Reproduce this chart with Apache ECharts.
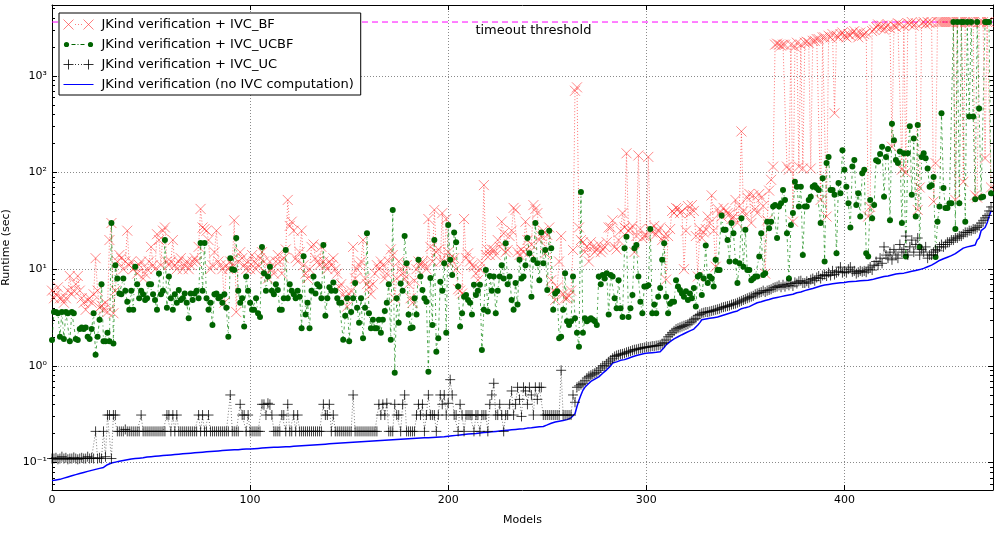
<!DOCTYPE html>
<html><head><meta charset="utf-8">
<script src="https://cdn.jsdelivr.net/npm/echarts@6/dist/echarts.min.js"></script>
<style>html,body{margin:0;padding:0;background:#fff}#c{width:994px;height:533px}</style>
</head><body><div id="c"></div>
<script>
// Runtime (sec) per model, models sorted by plain JKind verification time
const bfTimes = [
6,5,5.5,6.5,5,5,4.5,5,6,8.5,
5.5,6,7,8.5,6,5,4.5,3.8,4.8,5,
4.5,5.5,13,6,4,4.2,3.8,4.5,3.6,20,
30,3.5,6,12,14,13,10,12,25,11,
12,10,10.5,9,11,12,8,9,10,12,
17,11,10,23,20,11,25,27,12,11,
12,20,11,10,12,13,10,11,12,10,
11,12,13,12,17,42,27,26,25,20,
10,11,15,25,12,11,10,4.5,11,10,
12,11,32,3.6,12,15,13,11,10,12,
10,14,12,10,11,13,15,12,9,8,
12,10,9,12,14,12,9,13,16,52,
28,31,25,13,12,15,25,11,9,8,
10,17,18,13,12,11,17,12,11,10,
12,11,13,10,9,6.5,7,5.5,5,4.1,
5.5,6,17,8,10,11,12,20,8,7,
6.5,5.5,7,9,11,10,12,11,8,9,
12,16,14,5,8,12,10,9,8,11,
7,5,4.5,7.6,10,12,11,12,11,10,
33,17,12,41,15,16,12,38,12,33,
15,13,12,13,10,6.2,6,5.6,33,13,
14.6,12,11,10.6,9,7.7,10,11.5,74,14,
15.8,14,16,15.8,14,20,17,31,23.5,15,
15.8,22,25,43,41,15,14,16,15,31,
20,15,18,46,42,38,20,22,25,14.6,
22.6,27,7.7,6,4.8,6.5,12,22,5.5,5,
5,5.3,6,15.8,700,760,27,20,19,15,
17,12,19,17,15,16,18,15,16,17,
19,27,27,32,17,16,20,25,38,27,
158,25,26,28,15,22,150,26,21,22,
22,145,26,24,28,23,25,27,20,22,
7.8,22,26,40,38,43,42,38,40,10,
25,45,38,46,40,22,8.4,26,21,24,
26,35,30,58,25,10.6,42,38,35,43,
40,38,37,33,35,52,30,45,266,40,
36,55,60,30,58,42,38,60,55,45,
9,32,65,84,115,2100,2150,2100,2050,2100,
2100,115,107,2100,31,2000,2200,115,2100,110,
2200,2250,2200,110,2300,2300,2400,2400,52,2500,
2500,35,2600,2500,2700,410,2600,2500,2700,2800,
2600,2500,2700,2600,2800,2900,2700,2500,2800,2600,
2700,2800,35,44,2900,3000,3200,3400,3100,3300,
3000,3200,3400,3100,185,3300,3200,3500,3400,107,
3300,100,3500,3400,3600,3300,3500,41,70,3500,
3600,3400,3600,3500,3600,50,125,3600,3600,3600,
3600,3600,3600,3600,3600,3600,52,3600,3600,3600,
80,3600,3600,3600,3600,3600,58,55,3600,3600,
3600,140,3600,3600,70
];
const ucbfTimes = [
1.85,3.6,3.6,3.5,2,3.6,1.9,3.6,3.5,1.8,
3.6,3.5,1.9,1.85,2.4,2.5,2.4,2.5,2,1.9,
2.4,3.5,1.3,2,3,7,1.8,1.8,2.2,1.8,
30,1.7,11,8,5.6,5.5,8,6,4.6,3.8,
6,3.8,10.6,7,5,6,5.5,4.8,5,7,
7,5.5,4.8,3.8,9,5.5,6,20,4,8.4,
5,3.8,5.5,4.5,6.1,4.8,5,5.6,4.5,3.1,
5.6,4.8,5.6,6,5,18.6,6,18.6,5,3.8,
4.5,2.65,5.5,5.6,5,5.2,4.5,5.5,4,2.0,
13,10,9.8,21,6,4.5,5,2.55,8.4,6,
4.5,3.8,3.8,5,3.5,3.2,17,9.1,6,8.4,
10.6,6,5.5,7,6.1,3.8,3.8,5,15.8,5,
7,6,5.5,5,6,5.2,2.45,13.6,3.4,4.5,
2.45,6,8.4,5.6,7,6.6,5,17.8,3.3,5,
6.5,6,7.3,6,5,4.5,4.5,1.86,3.3,5,
1.8,3.6,5,7.2,4,2.8,5,1.93,4,23.5,
3.5,2.45,3,2.45,2.45,3,2.2,3,3.7,4.5,
7,1.86,41,0.85,5,2.8,7.1,6,22,11.5,
3.4,2.45,2.5,5,3.4,12.5,8.4,6.1,5,4.6,
0.87,8.1,2.65,20,1.4,1.93,7.4,6,11.5,2.2,
28.6,12.5,8.7,24,19,6.6,2.55,3.5,5.2,5.4,
4.8,4.5,3.4,6.9,5.4,6,6.9,1.46,3.8,9.8,
3.65,8.5,6,8.4,3.5,6,8.4,11,8,18.5,
7,8.4,4.8,3.8,7.2,4.3,12.5,8,8.4,11,
21,14.6,5.2,12.5,30,11.5,7.7,24,11.5,15.8,
6.1,25,16.5,3.8,5.6,5.9,1.93,2.0,3.8,9.1,
2.9,2.65,2.9,8.4,3.1,2.2,1.58,63,2.2,3.1,
2.9,3,3.1,3,2.9,2.65,8.4,7,8.7,8,
9.1,3.4,8.7,8.4,5,3.95,7.7,3.95,3.2,16.5,
21.7,3.2,3.95,5.4,16.5,17.8,8.4,4.6,3.5,6.6,
6.6,6.8,26,3.5,4.3,3.5,5.2,6.4,12.5,18.5,
5.2,3.5,4.4,4.6,4.6,7.7,6.6,6.1,5.6,5.2,
5.9,4.8,5.6,5,6.4,4.1,8.4,8.7,5.4,8,
17.6,7.2,8.4,8,6.6,12.5,9.8,9.8,36,25.5,
25.5,20,12,30,23.5,12,7.2,11.5,33.6,10.6,
25.5,9.8,9.8,7.7,8,8.4,8.4,13.5,23.5,8.7,
9.1,31,26.5,31,44.5,46,21,44.5,48,66,
52,23.5,8,28.6,38,80,71,44.5,71,14,
44.5,44.5,52,56,71,74,69,66,30,87,
12,125,145,66,66,59,14.6,78,61,170,
107,71,48,27,115,135,46,61,35,98,
107,14.6,13.5,52,33.6,46,134,130,155,185,
56,145,175,32,320,215,135,125,165,30,
158,13.5,158,300,59,225,35,310,17,145,
158,140,110,71,74,90,13.4,31,44.5,410,
69,43,43,48,48,3600,26,3600,48,3600,
3600,31,3600,380,3600,380,53,3600,460,55,
56,3600,3600,3600,61
];
const ucTimes = [
.11,.11,.112,.108,.11,.115,.11,.112,.108,.11,
.11,.113,.11,.108,.11,.112,.11,.11,.115,.11,
.112,.11,.21,.11,.112,.11,.21,.115,.31,.31,
.11,.31,.31,.21,.21,.21,.21,.22,.21,.21,
.21,.21,.21,.21,.21,.31,.21,.21,.21,.21,
.21,.21,.21,.21,.21,.21,.21,.21,.31,.31,
.21,.31,.21,.31,.21,.21,.21,.21,.21,.21,
.21,.21,.21,.21,.31,.21,.31,.21,.21,.31,
.21,.21,.21,.21,.21,.21,.21,.21,.21,.21,
.5,.21,.21,.21,.21,.4,.31,.31,.21,.31,
.21,.21,.21,.21,.21,.21,.4,.4,.31,.41,
.4,.31,.21,.21,.21,.21,.31,.31,.21,.4,
.21,.21,.31,.21,.31,.21,.21,.21,.21,.21,
.21,.21,.21,.21,.21,.21,.21,.4,.31,.31,
.4,.21,.31,.21,.21,.21,.21,.21,.21,.21,
.21,.21,.5,.21,.21,.21,.21,.21,.21,.21,
.21,.21,.21,.21,.21,.4,.31,.4,.31,.41,
.21,.21,.21,.4,.31,.31,.21,.4,.5,.21,
.21,.21,.21,.21,.31,.4,.31,.4,.21,.31,
.5,.31,.31,.31,.21,.31,.5,.4,.5,.31,
.41,.72,.5,.31,.31,.21,.4,.31,.21,.31,
.31,.31,.31,.21,.31,.31,.21,.31,.31,.31,
.21,.4,.5,.66,.31,.31,.4,.31,.21,.31,
.31,.4,.55,.31,.4,.6,.45,.3,.6,.55,
.4,.6,.5,.31,.6,.45,.6,.6,.31,.31,
.31,.31,.31,.31,.31,.31,.31,.9,.31,.31,
.31,.31,.31,.5,.42,.6,.62,.64,.66,.7,
.75,.78,.8,.82,.84,.86,.9,.95,1,1,
1.05,1.1,1.15,1.2,1.25,1.28,1.3,1.32,1.33,1.35,
1.38,1.4,1.42,1.45,1.47,1.48,1.5,1.52,1.53,1.55,
1.56,1.57,1.58,1.6,1.6,1.62,1.63,1.65,1.7,1.75,
1.85,2,2.1,2.2,2.3,2.4,2.45,2.5,2.55,2.6,
2.65,2.7,2.8,2.9,3,3.1,3.3,3.4,3.5,3.55,
3.6,3.6,3.65,3.7,3.75,3.8,3.85,3.9,4,4.05,
4.1,4.15,4.2,4.3,4.35,4.4,4.5,4.6,4.7,4.8,
4.9,5,5.1,5.2,5.3,5.5,5.6,5.7,5.8,6,
5.8,6,6.1,6.2,6.4,6.5,6.6,6.8,6.5,6.9,
6.6,7,6.8,7.1,6.7,7.3,7.1,7.5,7.6,7.2,
7.2,7.5,7.2,7.8,8,7.6,8.2,8.5,8,8.6,
8.8,8.5,9.2,8.6,9.6,8.8,9.2,9.5,10.5,9.2,
9.5,9.2,10,10.5,9.4,9.6,9,9.3,9.6,9.4,
9.6,9.3,10,10.5,9.8,11,12,11,13,11.5,
17,14,13,15,12.5,16,14,13,18,15,
16,22,14,17,20,15,18,21,14,16,
15,17,13,14,14,15,16,15.5,17,18,
17,18,19,19,20,20,21,21,22,22,
23,24,24,25,25,26,26,27,28,30,
32,34,36,40,44
];
const noIvcTimes = [
.065,.065,.066,.066,.067,.068,.069,.07,.071,.072,
.073,.074,.075,.076,.077,.078,.079,.08,.081,.082,
.083,.084,.085,.086,.087,.088,.089,.092,.095,.097,
.099,.1,.101,.102,.103,.104,.105,.106,.107,.108,
.109,.11,.11,.111,.111,.112,.112,.113,.114,.115,
.115,.116,.116,.117,.117,.118,.118,.119,.119,.12,
.12,.121,.121,.122,.122,.123,.123,.124,.124,.125,
.125,.126,.126,.127,.127,.128,.128,.129,.129,.13,
.13,.131,.131,.132,.132,.133,.133,.134,.134,.135,
.135,.135,.136,.136,.136,.137,.137,.137,.138,.138,
.138,.139,.139,.14,.14,.141,.141,.142,.142,.143,
.143,.143,.144,.144,.144,.145,.145,.145,.146,.146,
.146,.147,.147,.148,.148,.149,.149,.15,.15,.151,
.151,.152,.152,.153,.153,.154,.154,.155,.155,.156,
.156,.157,.157,.158,.158,.159,.159,.16,.16,.161,
.161,.162,.162,.163,.163,.164,.164,.165,.165,.166,
.166,.167,.167,.168,.168,.169,.169,.17,.17,.171,
.171,.172,.172,.173,.173,.174,.174,.175,.175,.176,
.176,.177,.177,.178,.178,.179,.179,.18,.18,.181,
.181,.182,.182,.183,.183,.184,.184,.185,.185,.186,
.187,.188,.189,.19,.191,.192,.193,.194,.195,.196,
.197,.198,.199,.2,.2,.201,.202,.203,.204,.205,
.206,.207,.208,.209,.21,.211,.212,.213,.214,.215,
.216,.217,.218,.219,.22,.221,.222,.223,.224,.226,
.227,.228,.229,.23,.232,.233,.234,.235,.236,.24,
.245,.25,.255,.26,.263,.266,.268,.27,.272,.275,
.278,.28,.29,.3,.32,.38,.44,.5,.56,.6,
.63,.66,.69,.71,.73,.75,.77,.8,.84,.88,
.91,.95,1,1.07,1.09,1.1,1.12,1.14,1.15,1.16,
1.18,1.2,1.22,1.24,1.26,1.28,1.3,1.31,1.33,1.34,
1.35,1.36,1.36,1.37,1.37,1.38,1.39,1.4,1.45,1.55,
1.65,1.7,1.78,1.85,1.9,1.95,2,2.05,2.1,2.15,
2.2,2.25,2.3,2.35,2.4,2.5,2.65,2.8,3,3.02,
3.05,3.08,3.1,3.12,3.15,3.18,3.2,3.25,3.3,3.35,
3.4,3.45,3.5,3.55,3.6,3.65,3.7,3.8,3.9,3.95,
4,4.05,4.1,4.2,4.3,4.4,4.5,4.55,4.6,4.7,
4.75,4.8,4.85,4.9,5,5.05,5.1,5.15,5.2,5.25,
5.3,5.35,5.4,5.45,5.5,5.6,5.7,5.75,5.8,5.9,
6,6.1,6.15,6.2,6.3,6.4,6.5,6.6,6.7,6.8,
6.85,6.9,6.95,7,7.05,7.1,7.15,7.2,7.25,7.3,
7.3,7.35,7.4,7.4,7.45,7.5,7.5,7.55,7.6,7.6,
7.65,7.7,7.7,7.75,7.8,7.9,8,8.1,8.2,8.3,
8.4,8.5,8.5,8.6,8.7,8.8,8.9,9,9,9.1,
9.1,9.2,9.3,9.4,9.5,9.6,9.7,9.8,9.9,10,
10.2,10.4,10.6,10.8,11,11.3,11.6,12,12.3,12.5,
12.8,13,13.3,13.6,13.8,14,14.5,15,15.5,16,
16.5,17,17,17.2,17.4,17.6,17.8,20,21,25,
26,27,30,35,40
];
const timeoutSec = 3600;
const timeoutLabel = 'timeout threshold';
const timeoutLabelAt = [243, 2900];
const seriesNames = [
  'JKind verification + IVC_BF',
  'JKind verification + IVC_UCBF',
  'JKind verification + IVC_UC',
  'JKind verification (no IVC computation)'
];
const xTicks = [0, 100, 200, 300, 400];
const yTickText = {'-1': '10⁻¹', '0': '10⁰', '1': '10¹', '2': '10²', '3': '10³'};
const yMinorTicks = [
  0.06, 0.07, 0.08, 0.09,
  0.2, 0.3, 0.4, 0.5, 0.6, 0.7, 0.8, 0.9,
  2, 3, 4, 5, 6, 7, 8, 9,
  20, 30, 40, 50, 60, 70, 80, 90,
  200, 300, 400, 500, 600, 700, 800, 900,
  2000, 3000, 4000, 5000
];

const FONT = 'DejaVu Sans';
const toPairs = arr => arr.map((v, i) => [i, v]);
const X_PATH = 'path://M0,0L10,10M10,0L0,10';
const PLUS_PATH = 'path://M5,0L5,10M0,5L10,5';
// legend icons drawn in a 30x10 box: marker, line sample, marker
const ICON_BF = 'path://M0,0L10,10M10,0L0,10M20,0L30,10M30,0L20,10M11.5,5L12.5,5M14.5,5L15.5,5M17.5,5L18.5,5';
const ICON_UCBF = 'path://M0,0L0.01,0M30,10L29.99,10M5.6,5A2.6,2.6,0,1,1,0.4,5A2.6,2.6,0,1,1,5.6,5ZM29.6,5A2.6,2.6,0,1,1,24.4,5A2.6,2.6,0,1,1,29.6,5ZM8,4.5L12,4.5L12,5.5L8,5.5ZM14,4.5L15,4.5L15,5.5L14,5.5ZM17,4.5L21,4.5L21,5.5L17,5.5Z';
const ICON_UC = 'path://M5,0L5,10M0,5L10,5M25,0L25,10M20,5L30,5M11.5,5L12.5,5M14.5,5L15.5,5M17.5,5L18.5,5';
const ICON_LINE = 'path://M0,0L0.01,0M30,10L29.99,10M0,4.4L30,4.4L30,5.6L0,5.6Z';
const gridLine = {show: true, lineStyle: {color: '#8a8a8a', width: 1, type: [1, 2]}};

const chart = echarts.init(document.getElementById('c'), null, {renderer: 'canvas'});
chart.setOption({
  animation: false,
  backgroundColor: '#fff',
  grid: {left: 52, right: 1, top: 5, bottom: 43, containLabel: false, outerBoundsMode: 'none'},
  legend: {
    data: [
      {name: seriesNames[0], icon: ICON_BF,
        itemStyle: {color: 'rgba(0,0,0,0)', borderColor: 'rgba(255,40,40,0.6)', borderWidth: 1}},
      {name: seriesNames[1], icon: ICON_UCBF,
        itemStyle: {color: '#006400', borderWidth: 0}},
      {name: seriesNames[2], icon: ICON_UC,
        itemStyle: {color: 'rgba(0,0,0,0)', borderColor: 'rgba(0,0,0,0.8)', borderWidth: 1}},
      {name: seriesNames[3], icon: ICON_LINE,
        itemStyle: {color: '#0000ff', borderWidth: 0}}
    ],
    symbolKeepAspect: false,
    orient: 'vertical', left: 59, top: 13,
    itemWidth: 30, itemHeight: 10, itemGap: 7,
    backgroundColor: '#fff', borderColor: '#000', borderWidth: 1, borderRadius: 0,
    padding: [5, 7, 4, 4],
    textStyle: {fontFamily: FONT, fontSize: 13, color: '#000', padding: [0, 0, 0, 3]},
    selectedMode: false
  },
  xAxis: [{
    type: 'value', min: 0, max: 475, interval: 100, position: 'bottom',
    name: 'Models', nameLocation: 'middle', nameGap: 25,
    nameTextStyle: {fontFamily: FONT, fontSize: 11, color: '#000'},
    axisLine: {show: true, onZero: false, lineStyle: {color: '#000', width: 1}},
    axisTick: {show: true, inside: true, length: 5, lineStyle: {color: '#000'}},
    axisLabel: {fontFamily: FONT, fontSize: 11, color: '#000', margin: 5, showMaxLabel: false,
      formatter: v => xTicks.includes(v) ? String(v) : ''},
    splitLine: gridLine
  }, {
    type: 'value', min: 0, max: 475, interval: 100, position: 'top',
    axisLine: {show: true, onZero: false, lineStyle: {color: '#000', width: 1}},
    axisTick: {show: true, inside: true, length: 5, lineStyle: {color: '#000'}},
    axisLabel: {show: false}, splitLine: {show: false}
  }],
  yAxis: [{
    type: 'log', logBase: 10, min: 0.052, max: 5400, position: 'left',
    name: 'Runtime (sec)', nameLocation: 'middle', nameGap: 36, nameRotate: 90,
    nameTextStyle: {fontFamily: FONT, fontSize: 11, color: '#000'},
    axisLine: {show: true, onZero: false, lineStyle: {color: '#000', width: 1}},
    axisTick: {show: true, inside: true, length: 5, lineStyle: {color: '#000'}},
    axisLabel: {fontFamily: FONT, fontSize: 11, color: '#000', margin: 5,
      showMinLabel: false, showMaxLabel: false,
      formatter: v => { const e = Math.log10(v); const r = Math.round(e);
        return Math.abs(e - r) < 1e-6 && yTickText[r] ? yTickText[r] : ''; }},
    splitLine: gridLine
  }, {
    type: 'log', logBase: 10, min: 0.052, max: 5400, position: 'right',
    axisLine: {show: true, onZero: false, lineStyle: {color: '#000', width: 1}},
    axisTick: {show: true, inside: true, length: 5, lineStyle: {color: '#000'}},
    axisLabel: {show: false}, splitLine: {show: false}
  }],
  series: [
    {
      name: 'minor ticks', type: 'custom', silent: true, clip: false,
      data: yMinorTicks.map(v => [0, v]),
      renderItem: (params, api) => {
        const cs = params.coordSys;
        const y = Math.round(api.coord([0, api.value(1)])[1]) + 0.5;
        const st = {stroke: '#000', lineWidth: 1};
        return {type: 'group', children: [
          {type: 'line', shape: {x1: cs.x, y1: y, x2: cs.x + 3, y2: y}, style: st},
          {type: 'line', shape: {x1: cs.x + cs.width - 3, y1: y, x2: cs.x + cs.width, y2: y}, style: st}
        ]};
      }
    },
    {
      name: 'timeout', type: 'line', data: [[0, timeoutSec], [475, timeoutSec]],
      showSymbol: false, silent: true,
      lineStyle: {color: '#ff00ff', width: 1, type: [6, 4]},
      markPoint: {
        symbol: 'rect', symbolSize: 1, silent: true,
        itemStyle: {color: 'rgba(0,0,0,0)'},
        label: {show: true, position: 'inside', formatter: timeoutLabel,
          fontFamily: FONT, fontSize: 13, color: '#000'},
        data: [{coord: timeoutLabelAt}]
      }
    },
    {
      name: seriesNames[0], type: 'line', data: toPairs(bfTimes),
      showSymbol: true, showAllSymbol: true, symbol: X_PATH, symbolSize: 10,
      itemStyle: {color: 'rgba(255,0,0,0)', borderColor: 'rgba(255,40,40,0.55)', borderWidth: 1},
      lineStyle: {color: 'rgba(255,0,0,0.55)', width: 1, type: [1, 2]},
      emphasis: {disabled: true}
    },
    {
      name: seriesNames[1], type: 'line', data: toPairs(ucbfTimes),
      showSymbol: true, showAllSymbol: true, symbol: 'circle', symbolSize: 6,
      itemStyle: {color: '#006400', borderWidth: 0},
      lineStyle: {color: 'rgba(0,128,0,0.7)', width: 1, type: [3, 3, 1, 3]},
      emphasis: {disabled: true}
    },
    {
      name: seriesNames[2], type: 'line', data: toPairs(ucTimes),
      showSymbol: true, showAllSymbol: true, symbol: PLUS_PATH, symbolSize: 10,
      itemStyle: {color: 'rgba(0,0,0,0)', borderColor: 'rgba(0,0,0,0.75)', borderWidth: 1},
      lineStyle: {color: 'rgba(0,0,0,0.5)', width: 1, type: [1, 2]},
      emphasis: {disabled: true}
    },
    {
      name: seriesNames[3], type: 'line', data: toPairs(noIvcTimes),
      showSymbol: false, symbol: 'none',
      itemStyle: {color: '#0000ff'},
      lineStyle: {color: '#0000ff', width: 1.5},
      emphasis: {disabled: true}
    }
  ]
});
</script></body></html>
